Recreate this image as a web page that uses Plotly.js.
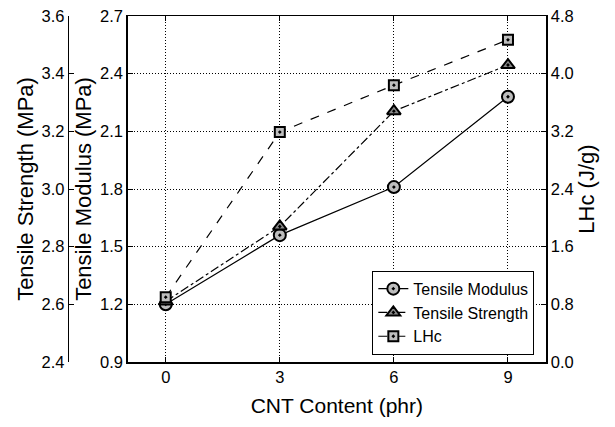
<!DOCTYPE html>
<html>
<head>
<meta charset="utf-8">
<script src="https://cdn.plot.ly/plotly-3.0.1.min.js"></script>
<style>html,body{margin:0;padding:0;background:#fff;}#chart{width:615px;height:427px;}</style>
</head>
<body>
<div id="chart"></div>
<script>
var cntContent = [0, 3, 6, 9];
var tensileModulus = [1.20, 1.56, 1.81, 2.28];
var tensileStrength = [2.61, 2.87, 3.27, 3.43];
var lhc = [0.90, 3.19, 3.84, 4.47];
var xTicks = [0, 3, 6, 9];

var font = 'Liberation Sans, Arial, sans-serif';
var traces = [
  {x: cntContent, y: tensileModulus, name: 'Tensile Modulus', yaxis: 'y', type: 'scatter', mode: 'lines+markers',
   line: {color: '#000', width: 1.2, dash: 'solid'},
   marker: {symbol: 'circle-dot', size: 12, color: '#bdbdbd', line: {color: '#000', width: 2}}},
  {x: cntContent, y: tensileStrength, name: 'Tensile Strength', yaxis: 'y2', type: 'scatter', mode: 'lines+markers',
   line: {color: '#000', width: 1.2, dash: 'dashdot'},
   marker: {symbol: 'triangle-up-dot', size: 12, color: '#8a8a8a', line: {color: '#000', width: 2}}},
  {x: cntContent, y: lhc, name: 'LHc', yaxis: 'y3', type: 'scatter', mode: 'lines+markers',
   line: {color: '#000', width: 1.2, dash: 'dash'},
   marker: {symbol: 'square-dot', size: 10, color: '#bdbdbd', line: {color: '#000', width: 2}}}
];

var L = 60, R = 69, plotW = 615 - L - R;
var grid = {showgrid: true, gridcolor: '#000', griddash: '1px,2px', gridwidth: 1};
var layout = {
  width: 615, height: 427,
  margin: {l: L, r: R, t: 16, b: 65},
  paper_bgcolor: '#fff', plot_bgcolor: '#fff',
  font: {family: font, color: '#000', size: 16},
  showlegend: true,
  legend: {x: 0.976, y: 0.021, xanchor: 'right', yanchor: 'bottom', bordercolor: '#000', borderwidth: 1,
           bgcolor: '#fff', font: {family: font, size: 16, color: '#000'}, tracegroupgap: 0},
  xaxis: Object.assign({domain: [(127.7 - L) / plotW, 1], range: [-1, 10], tickvals: xTicks, ticktext: xTicks.map(String),
          showline: true, linecolor: '#000', linewidth: 1.5, mirror: 'ticks', ticks: 'inside', ticklen: 5, tickcolor: '#000',
          zeroline: false, tickfont: {size: 16.5, family: font},
          title: {text: 'CNT Content (phr)', font: {size: 21, family: font}, standoff: 13}}, grid),
  yaxis: Object.assign({range: [0.9, 2.7], dtick: 0.3, tick0: 0.9, tickformat: '.1f', showline: true, linecolor: '#000', linewidth: 1.5,
          ticks: 'inside', ticklen: 5, tickcolor: '#000',
          zeroline: false, tickfont: {size: 16.5, family: font},
          title: {text: 'Tensile Modulus (MPa)', font: {size: 22, family: font}, standoff: 2}}, grid),
  yaxis2: {overlaying: 'y', anchor: 'free', position: (67.7 - L) / plotW, side: 'left',
           range: [2.4, 3.6], dtick: 0.2, tick0: 2.4, tickformat: '.1f', showline: true, linecolor: '#000', linewidth: 1.5,
           ticks: 'inside', ticklen: 5, tickcolor: '#000', showgrid: false, zeroline: false,
           tickfont: {size: 16.5, family: font},
           title: {text: 'Tensile Strength (MPa)', font: {size: 22, family: font}, standoff: 0}},
  yaxis3: {overlaying: 'y', anchor: 'x', side: 'right',
           range: [0, 4.8], dtick: 0.8, tick0: 0, tickformat: '.1f', showline: true, linecolor: '#000', linewidth: 1.5,
           ticks: 'inside', ticklen: 5, tickcolor: '#000', showgrid: false, zeroline: false,
           tickfont: {size: 16.5, family: font},
           title: {text: 'LHc (J/g)', font: {size: 22, family: font}, standoff: 4}}
};
Plotly.newPlot('chart', traces, layout, {displayModeBar: false, staticPlot: true});
</script>
</body>
</html>
